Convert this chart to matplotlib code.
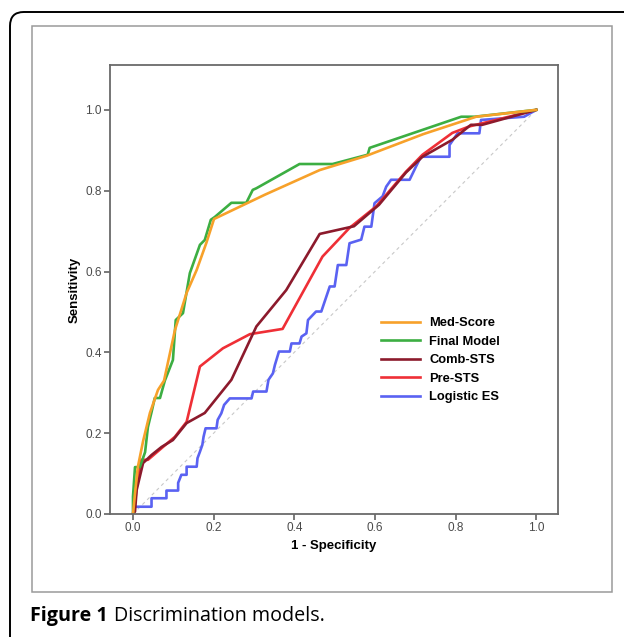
import matplotlib.pyplot as plt
from matplotlib.patches import Rectangle, FancyBboxPatch

# ROC curve vertices (1 - specificity, sensitivity)
med_x = [0, 0.005, 0.012, 0.025, 0.042, 0.062, 0.077, 0.104, 0.133, 0.158, 0.182, 0.201,
         0.327, 0.463, 0.578, 0.72, 0.851, 1.0]
med_y = [0, 0.05, 0.116, 0.18, 0.25, 0.307, 0.33, 0.455, 0.547, 0.604, 0.671, 0.73,
         0.79, 0.851, 0.886, 0.94, 0.983, 1.0]

final_x = [0, 0, 0.005, 0.017, 0.03, 0.037, 0.046, 0.054, 0.067, 0.079, 0.099, 0.106, 0.124,
           0.141, 0.166, 0.178, 0.193, 0.203, 0.244, 0.281, 0.297, 0.306, 0.413, 0.495,
           0.582, 0.587, 0.814, 0.847, 1.0]
final_y = [0, 0.043, 0.116, 0.116, 0.153, 0.215, 0.252, 0.287, 0.287, 0.33, 0.381, 0.48, 0.497,
           0.596, 0.666, 0.678, 0.728, 0.735, 0.77, 0.77, 0.802, 0.806, 0.866, 0.866,
           0.889, 0.906, 0.983, 0.983, 1.0]

comb_x = [0, 0.005, 0.009, 0.025, 0.046, 0.071, 0.099, 0.133, 0.178, 0.244, 0.306, 0.38,
          0.463, 0.548, 0.61, 0.677, 0.718, 0.792, 0.838, 0.866, 1.0]
comb_y = [0, 0.006, 0.059, 0.126, 0.146, 0.166, 0.183, 0.225, 0.25, 0.332, 0.464, 0.554,
          0.693, 0.712, 0.765, 0.845, 0.884, 0.926, 0.963, 0.963, 1.0]

pre_x = [0, 0.005, 0.012, 0.021, 0.037, 0.071, 0.104, 0.133, 0.166, 0.223, 0.29, 0.371,
         0.47, 0.537, 0.603, 0.677, 0.718, 0.792, 0.834, 0.9, 1.0]
pre_y = [0, 0.027, 0.092, 0.134, 0.134, 0.163, 0.191, 0.228, 0.365, 0.41, 0.445, 0.458,
         0.637, 0.708, 0.761, 0.847, 0.889, 0.943, 0.959, 0.975, 1.0]

log_x = [0, 0.005, 0.046, 0.046, 0.083, 0.083, 0.112, 0.112, 0.12, 0.133, 0.133, 0.158, 0.16,
         0.166, 0.172, 0.175, 0.18, 0.207, 0.21, 0.219, 0.226, 0.24, 0.294, 0.298, 0.331,
         0.336, 0.347, 0.352, 0.362, 0.389, 0.393, 0.413, 0.418, 0.43, 0.434, 0.454, 0.467,
         0.488, 0.5, 0.508, 0.529, 0.537, 0.566, 0.574, 0.591, 0.599, 0.619, 0.628, 0.64,
         0.686, 0.702, 0.714, 0.785, 0.785, 0.805, 0.859, 0.863, 0.97, 1.0]
log_y = [0, 0.018, 0.018, 0.039, 0.039, 0.058, 0.058, 0.077, 0.097, 0.097, 0.117, 0.117, 0.138,
         0.154, 0.171, 0.191, 0.212, 0.212, 0.233, 0.249, 0.27, 0.286, 0.286, 0.303, 0.303,
         0.332, 0.348, 0.369, 0.402, 0.402, 0.422, 0.422, 0.439, 0.447, 0.48, 0.501, 0.501,
         0.563, 0.563, 0.616, 0.616, 0.67, 0.679, 0.711, 0.711, 0.769, 0.786, 0.81, 0.827,
         0.827, 0.86, 0.884, 0.884, 0.913, 0.942, 0.942, 0.975, 0.983, 1.0]

ticks = [0.0, 0.2, 0.4, 0.6, 0.8, 1.0]
tick_labels = ["0.0", "0.2", "0.4", "0.6", "0.8", "1.0"]

W, H = 624, 637
fig = plt.figure(figsize=(W / 100, H / 100), dpi=100)
plt.rcParams['font.family'] = ['Liberation Sans', 'DejaVu Sans']

# outer rounded panel border (runs off the right and bottom edges)
fig.patches.append(FancyBboxPatch((10 / W, 1 - 700 / H), 700 / W, (700 - 12) / H,
                                  boxstyle="round,pad=0,rounding_size=0.022",
                                  transform=fig.transFigure, fill=False,
                                  edgecolor="black", linewidth=1.4))
# grey chart frame
fig.patches.append(Rectangle((32 / W, 1 - 592 / H), (612 - 32) / W, (592 - 26) / H,
                             transform=fig.transFigure, fill=False,
                             edgecolor="#9a9a9a", linewidth=1.1))

ax = fig.add_axes([110 / W, 1 - 514 / H, (558 - 110) / W, (514 - 65) / H])
ax.plot([0, 1], [0, 1], color="#c8c8c8", linewidth=0.8, dashes=(3, 3))
ax.plot(log_x, log_y, color="#5a62f2", linewidth=1.9, label="Logistic ES")
ax.plot(pre_x, pre_y, color="#ef2f36", linewidth=1.9, label="Pre-STS")
ax.plot(comb_x, comb_y, color="#8c1a2c", linewidth=1.9, label="Comb-STS")
ax.plot(final_x, final_y, color="#3cae42", linewidth=1.9, label="Final Model")
ax.plot(med_x, med_y, color="#f7a12a", linewidth=1.9, label="Med-Score")

ax.set_xlim(-0.057, 1.054)
ax.set_ylim(0, 1.111)
ax.set_xticks(ticks)
ax.set_xticklabels(tick_labels)
ax.set_yticks(ticks)
ax.set_yticklabels(tick_labels)
ax.tick_params(direction="out", length=4, width=1.1, color="#555555",
               labelsize=8.5, labelcolor="#4a4a4a", pad=2)
for s in ax.spines.values():
    s.set_color("#6a6a6a")
    s.set_linewidth(1.3)
ax.set_xlabel("1 - Specificity", fontsize=9.5, fontweight="bold", labelpad=4)
ax.set_ylabel("Sensitivity", fontsize=9.5, fontweight="bold", labelpad=3)

handles, labels = ax.get_legend_handles_labels()
leg = fig.legend(handles[::-1], labels[::-1], loc="upper left",
                 bbox_to_anchor=(381 / W, 1 - 317 / H), bbox_transform=fig.transFigure,
                 frameon=False, borderpad=0, borderaxespad=0, fontsize=9.3,
                 handlelength=3.05, handletextpad=0.7, labelspacing=0.5)
for t in leg.get_texts():
    t.set_fontweight("bold")

# caption: bold "Figure 1" followed by regular text
cap1 = fig.text(30 / W, 1 - 616 / H, "Figure 1", fontsize=14.2, fontweight="bold",
                family=["Open Sans", "DejaVu Sans"], va="center")
fig.canvas.draw()
bb = cap1.get_window_extent()
fig.text(bb.x1 / W + 6 / W, 1 - 616 / H, "Discrimination models.", fontsize=14.2,
         family=["Open Sans", "DejaVu Sans"], va="center")

fig.savefig("out.png", dpi=100)
